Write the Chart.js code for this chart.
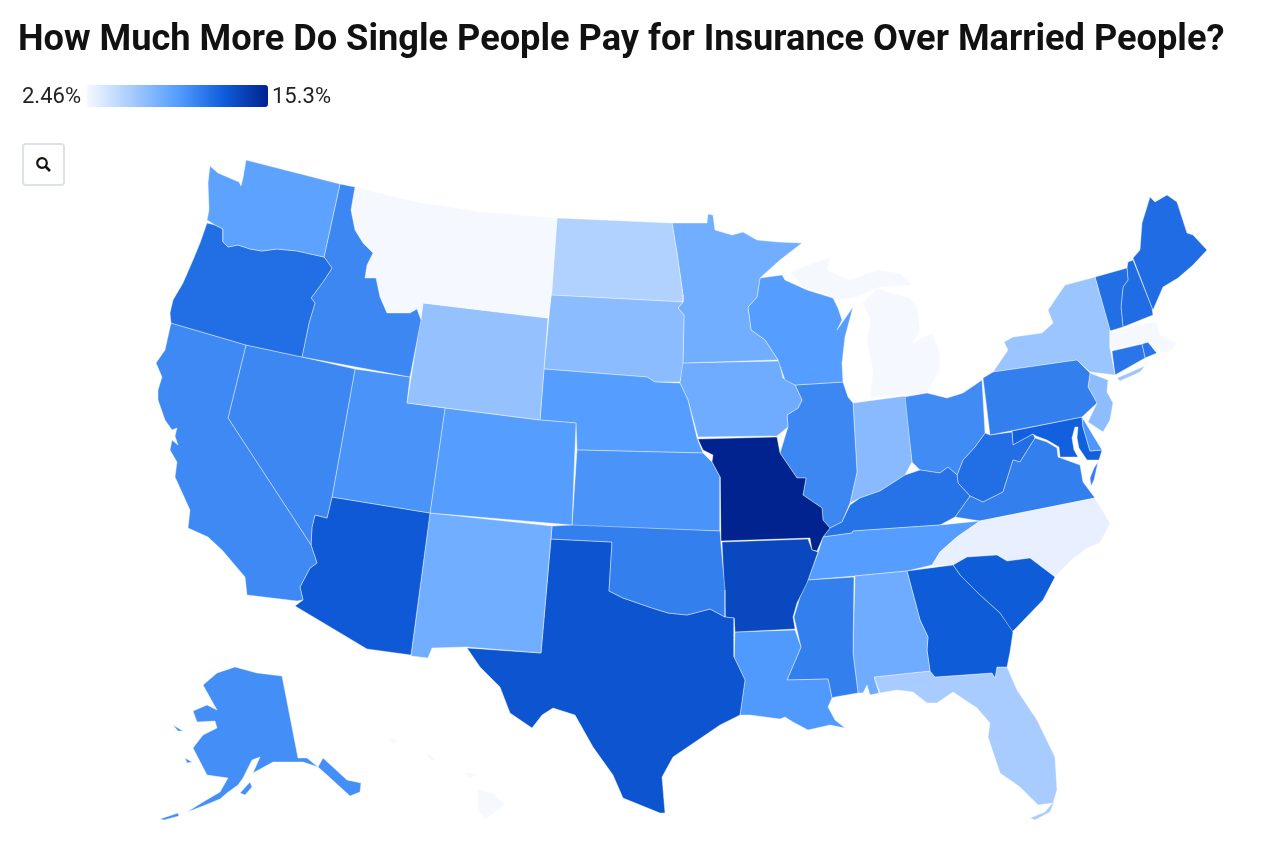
<!DOCTYPE html>
<html>
<head>
<meta charset="utf-8">
<title>How Much More Do Single People Pay for Insurance Over Married People?</title>
<script src="https://cdn.jsdelivr.net/npm/chart.js@4"></script>
<style>
  html, body { margin: 0; background: #fff; font-family: Roboto, sans-serif; }
  #page { position: relative; width: 1280px; height: 850px; overflow: hidden; }
  #title { position: absolute; left: 18px; top: 17px; margin: 0; font-size: 36.2px; line-height: 42px; font-weight: 700; color: #111; white-space: nowrap; }
  .legendText { position: absolute; top: 85px; font-size: 22px; line-height: 22px; color: #222; }
  #legendBar { position: absolute; left: 87px; top: 85px; width: 181px; height: 22px; border-radius: 3px; }
  #zoomBtn { position: absolute; left: 22px; top: 143px; width: 39px; height: 39px; border: 2px solid #dde2ea; border-radius: 4px; background: #fff; display: flex; align-items: center; justify-content: center; }
  #map { position: absolute; left: 0; top: 0; }
</style>
</head>
<body>
<div id="page">
  <canvas id="map" width="1280" height="850"></canvas>
  <h1 id="title">How Much More Do Single People Pay for Insurance Over Married People?</h1>
  <span class="legendText" id="legendMin" style="left:22px"></span>
  <div id="legendBar"></div>
  <span class="legendText" id="legendMax" style="left:272px"></span>
  <div id="zoomBtn">
    <svg width="18" height="18" viewBox="0 0 18 18"><circle cx="7" cy="7" r="4.8" fill="none" stroke="#111" stroke-width="2.2"/><line x1="10.5" y1="10.5" x2="15" y2="15" stroke="#111" stroke-width="2.6"/></svg>
  </div>
</div>
<script>
// ── DATA ───────────────────────────────────────────────────────────────────
const stateNames = ["AK","AL","AR","AZ","CA","CO","CT","DE","FL","GA","HI","IA","ID","IL","IN","KS","KY","LA","MA","MD","ME","MI","MN","MO","MS","MT","NC","ND","NE","NH","NJ","NM","NV","NY","OH","OK","OR","PA","RI","SC","SD","TN","TX","UT","VA","VT","WA","WI","WV","WY"];
const stateValues = [9.65,7.85,13.3,12.35,9.9,8.88,10.9,9.2,5.54,12.2,2.46,7.85,10.0,10.0,6.8,9.4,11.06,9.1,2.46,12.0,11.4,2.46,7.7,15.3,10.4,2.46,3.0,5.2,8.88,11.4,6.6,7.7,10.0,6.06,9.8,10.4,11.3,10.4,10.9,12.2,6.7,8.88,12.6,9.4,10.4,11.3,8.5,8.88,11.3,6.3];

const scaleMin = 2.46;
const scaleMax = 15.3;
const scaleStops = [0, 0.5, 0.75, 1];
const scaleColors = [[245,248,255], [85,157,255], [16,94,220], [0,35,143]];

// Outlines, in map units (y grows downwards)
const outlineWA = [[210,166],[218,173],[239,182],[241,186],[243,178],[246,160],[340,184],[324,257],[297,251],[277,249],[262,251],[250,249],[238,245],[228,247],[223,242],[223,229],[215,225],[207,220],[209,210],[208,183]];
const outlineOR = [[207,223],[215,225],[223,229],[223,242],[228,247],[238,245],[250,249],[262,251],[277,249],[297,251],[324,257],[332,268],[323,282],[311,298],[315,303],[309,323],[302,357],[246,345],[171,323],[170,313],[173,300],[183,283],[193,260],[200,243]];
const outlineID = [[340,184],[355,187],[351,210],[355,230],[363,243],[373,253],[367,265],[365,278],[376,278],[380,297],[387,313],[410,313],[417,309],[421,320],[410,377],[302,357],[309,323],[315,303],[311,298],[323,282],[332,268],[324,257]];
const outlineMT = [[355,187],[417,202],[483,212],[557,218],[552,290],[548,318],[423,303],[421,320],[417,309],[410,313],[387,313],[380,297],[376,278],[365,278],[367,265],[373,253],[363,243],[355,230],[351,210]];
const outlineWY = [[423,303],[548,318],[540,420],[407,403]];
const outlineCA = [[171,323],[246,345],[228,418],[311,545],[317,563],[310,568],[300,587],[303,600],[297,601],[247,595],[245,577],[228,557],[222,550],[208,537],[188,528],[190,510],[175,477],[177,462],[170,450],[172,440],[178,445],[175,436],[177,428],[172,430],[165,420],[158,400],[158,390],[162,377],[156,363],[165,350]];
const outlineNV = [[246,345],[302,357],[355,369],[332,497],[327,518],[315,515],[312,527],[311,545],[228,418]];
const outlineUT = [[355,369],[410,377],[407,403],[445,408],[430,513],[332,497]];
const outlineAZ = [[332,497],[430,513],[411,655],[367,649],[295,606],[303,600],[300,587],[310,568],[317,563],[311,545],[312,527],[315,515],[327,518]];
const outlineCO = [[445,408],[540,420],[576,423],[572,525],[430,513]];
const outlineNM = [[430,513],[552,526],[541,653],[466,647],[432,648],[428,658],[411,656]];
const outlineTX = [[551,539],[612,542],[609,591],[623,598],[652,608],[668,613],[687,615],[710,609],[725,617],[734,618],[734,657],[745,680],[740,715],[720,725],[673,757],[662,777],[665,813],[660,813],[623,798],[613,775],[593,747],[575,715],[553,708],[542,715],[532,728],[510,713],[500,687],[480,667],[467,648],[541,653]];
const outlineOK = [[552,526],[572,525],[720,531],[721,545],[725,590],[725,617],[710,609],[687,615],[668,613],[652,608],[623,598],[609,591],[612,542],[551,539]];
const outlineKS = [[577,450],[703,453],[712,462],[720,477],[720,531],[572,526]];
const outlineNE = [[544,369],[647,377],[655,382],[680,383],[688,400],[697,438],[703,453],[577,450],[576,423],[540,420]];
const outlineSD = [[551,295],[683,302],[678,308],[684,315],[683,363],[680,382],[655,382],[647,377],[544,369]];
const outlineND = [[557,218],[672,223],[677,253],[683,295],[683,302],[551,295]];
const outlineMN = [[672,223],[707,223],[708,214],[713,215],[715,230],[732,235],[743,232],[757,240],[778,242],[802,243],[780,260],[760,278],[757,297],[748,307],[751,330],[765,340],[778,360],[683,363],[684,315],[678,308],[683,302],[683,295],[677,253]];
const outlineWI = [[760,278],[782,275],[785,280],[807,290],[833,298],[838,308],[842,320],[837,330],[853,307],[845,337],[842,363],[843,382],[795,385],[785,380],[778,360],[765,340],[751,330],[748,307],[757,297]];
const outlineIA = [[682,363],[779,361],[783,378],[795,385],[802,400],[798,408],[787,415],[788,427],[777,436],[698,437],[688,400],[680,383]];
const outlineMO = [[698,439],[777,437],[780,453],[797,478],[806,478],[803,495],[822,508],[823,520],[830,528],[823,537],[817,551],[812,550],[810,538],[721,541],[720,477],[712,462],[713,455],[703,450]];
const outlineAR = [[722,542],[808,539],[812,550],[818,552],[807,583],[797,603],[793,617],[795,629],[735,632],[734,618],[725,617],[723,563]];
const outlineLA = [[735,632],[795,630],[801,647],[787,680],[828,679],[832,698],[828,707],[835,720],[845,728],[830,725],[808,730],[793,722],[785,717],[780,719],[750,715],[740,715],[745,680],[734,657]];
const outlineMS = [[808,580],[854,577],[853,653],[858,693],[835,697],[832,698],[828,679],[787,680],[801,647],[794,617],[800,597]];
const outlineAL = [[855,576],[907,571],[920,620],[928,637],[927,650],[930,671],[874,677],[879,693],[870,695],[867,685],[863,693],[858,693],[853,653]];
const outlineGA = [[907,571],[953,565],[960,575],[980,595],[1000,613],[1013,632],[1010,652],[1007,667],[997,667],[995,678],[992,673],[935,677],[930,671],[927,650],[928,637],[920,620]];
const outlineFL = [[874,677],[930,671],[935,677],[992,673],[995,678],[997,667],[1007,667],[1017,690],[1037,720],[1055,757],[1057,790],[1053,803],[1038,805],[1020,787],[1000,773],[988,737],[990,723],[977,708],[953,692],[937,703],[927,703],[913,692],[897,690],[880,693]];
const outlineFLKeys = [[1030,818],[1045,812],[1055,800],[1050,812],[1035,820]];
const outlineSC = [[953,565],[967,557],[997,555],[1007,561],[1030,558],[1055,577],[1043,600],[1017,627],[1012,632],[1000,613],[980,595],[960,575]];
const outlineNC = [[980,521],[1095,498],[1110,523],[1100,543],[1087,548],[1070,561],[1055,577],[1030,558],[1007,561],[997,555],[967,557],[953,565],[932,566],[940,552],[957,537]];
const outlineTN = [[823,537],[852,533],[853,531],[940,525],[980,521],[957,537],[940,552],[932,565],[907,571],[855,576],[808,580],[818,553]];
const outlineKY = [[830,528],[842,522],[850,505],[860,498],[880,491],[905,475],[920,470],[940,473],[948,467],[957,475],[958,483],[970,496],[955,517],[940,525],[853,531],[852,533],[823,537]];
const outlineIL = [[795,385],[843,382],[848,397],[853,403],[857,472],[850,503],[842,522],[830,528],[823,520],[822,508],[803,495],[806,478],[797,478],[780,453],[788,427],[787,415],[798,408],[802,400]];
const outlineIN = [[853,403],[905,396],[912,462],[905,475],[880,491],[860,498],[850,503],[857,472]];
const outlineOH = [[904,397],[927,393],[947,398],[963,393],[982,380],[985,433],[975,447],[963,460],[957,475],[948,467],[940,473],[920,470],[912,462]];
const outlinePA = [[983,378],[993,372],[1077,360],[1090,373],[1088,387],[1097,403],[1082,417],[990,435]];
const outlineNY = [[993,372],[1008,350],[1004,342],[1013,337],[1042,333],[1053,323],[1048,310],[1065,285],[1095,277],[1110,330],[1110,348],[1115,375],[1090,372],[1077,360]];
const outlineNYIsland = [[1117,378],[1145,366],[1140,372],[1120,381]];
const outlineNJ = [[1090,373],[1108,380],[1107,392],[1113,403],[1110,420],[1103,432],[1088,422],[1097,403],[1088,387]];
const outlineDE = [[1082,417],[1088,427],[1102,450],[1090,451],[1083,427]];
const outlineMD = [[1012,431],[1082,417],[1083,427],[1090,451],[1102,450],[1099,460],[1087,460],[1079,448],[1077,438],[1078,427],[1075,427],[1072,438],[1074,450],[1078,457],[1060,457],[1059,447],[1047,440],[1036,436],[1033,434],[1013,445]];
const outlineWV = [[985,433],[990,435],[1012,432],[1013,445],[1033,434],[1035,438],[1020,462],[1013,460],[1003,492],[983,502],[970,496],[958,483],[957,475],[963,460],[975,447]];
const outlineVA = [[1035,438],[1047,442],[1057,448],[1058,457],[1080,465],[1083,482],[1095,498],[980,521],[955,517],[970,496],[983,502],[1003,492],[1013,460],[1020,462]];
const outlineVAShore = [[1094,468],[1098,462],[1094,480],[1091,486],[1090,478]];
const outlineVT = [[1095,277],[1127,268],[1128,280],[1123,287],[1121,307],[1123,327],[1110,331]];
const outlineNH = [[1128,262],[1133,260],[1152,308],[1153,315],[1123,327],[1121,307],[1123,287],[1128,280],[1127,268]];
const outlineME = [[1133,258],[1140,250],[1142,223],[1150,197],[1155,202],[1167,195],[1177,202],[1187,233],[1193,235],[1207,250],[1193,265],[1178,278],[1163,287],[1153,310],[1152,308]];
const outlineMA = [[1110,332],[1147,323],[1157,322],[1160,335],[1177,343],[1170,352],[1157,353],[1148,342],[1110,350]];
const outlineCT = [[1112,351],[1142,344],[1145,358],[1115,375]];
const outlineRI = [[1142,344],[1148,342],[1157,353],[1145,358]];
const outlineMIUpper = [[790,272],[813,263],[830,258],[827,270],[850,280],[877,270],[900,273],[912,285],[890,287],[880,287],[857,297],[838,300],[823,293],[803,287]];
const outlineMILower = [[877,288],[890,293],[910,298],[918,310],[920,330],[913,343],[932,333],[940,353],[940,370],[930,387],[927,393],[870,398],[873,370],[867,343],[870,320],[863,303]];
const outlineAK = [[203,685],[217,673],[235,667],[257,673],[282,676],[298,758],[307,758],[318,767],[323,758],[347,780],[361,783],[360,792],[350,796],[327,775],[318,767],[303,762],[273,762],[253,773],[260,757],[252,760],[243,778],[238,785],[227,793],[220,799],[203,806],[187,812],[203,802],[220,792],[228,778],[207,775],[193,748],[203,735],[217,728],[215,721],[197,722],[193,711],[207,705],[217,710]];
const outlineAKKodiak = [[240,793],[250,782],[252,787],[245,795]];
const outlineAKNunivak = [[185,758],[192,762],[187,763]];
const outlineAKLawrence = [[173,725],[183,731],[178,731]];
const outlineAKChain = [[160,819],[178,813],[179,816],[164,820]];
const outlineHIBig = [[478,790],[493,793],[505,805],[485,820],[478,810]];
const outlineHIMaui = [[465,772],[477,775],[470,778]];
const outlineHIOahu = [[427,753],[437,760],[430,760]];
const outlineHIKauai = [[390,738],[398,740],[393,745]];

const stateParts = [
  ["WA",outlineWA],["OR",outlineOR],["ID",outlineID],["MT",outlineMT],["WY",outlineWY],["CA",outlineCA],["NV",outlineNV],["UT",outlineUT],
  ["AZ",outlineAZ],["CO",outlineCO],["NM",outlineNM],["OK",outlineOK],["TX",outlineTX],["KS",outlineKS],["NE",outlineNE],["SD",outlineSD],
  ["ND",outlineND],["MN",outlineMN],["WI",outlineWI],["IA",outlineIA],["AR",outlineAR],["MO",outlineMO],["LA",outlineLA],["MS",outlineMS],
  ["AL",outlineAL],["GA",outlineGA],["FL",outlineFL],["FL",outlineFLKeys],["SC",outlineSC],["NC",outlineNC],["TN",outlineTN],["KY",outlineKY],
  ["IL",outlineIL],["IN",outlineIN],["OH",outlineOH],["PA",outlinePA],["NY",outlineNY],["NY",outlineNYIsland],["NJ",outlineNJ],["DE",outlineDE],
  ["VA",outlineVA],["VA",outlineVAShore],["WV",outlineWV],["MD",outlineMD],["VT",outlineVT],["NH",outlineNH],["ME",outlineME],["MA",outlineMA],
  ["CT",outlineCT],["RI",outlineRI],["MI",outlineMIUpper],["MI",outlineMILower],["AK",outlineAK],["AK",outlineAKKodiak],["AK",outlineAKNunivak],
  ["AK",outlineAKLawrence],["AK",outlineAKChain],["HI",outlineHIBig],["HI",outlineHIMaui],["HI",outlineHIOahu],["HI",outlineHIKauai],
];

// ── COLOUR SCALE ───────────────────────────────────────────────────────────
function valueColor(v) {
  const t = (v - scaleMin) / (scaleMax - scaleMin);
  let i = 0;
  while (i < scaleStops.length - 2 && t > scaleStops[i + 1]) i++;
  const f = (t - scaleStops[i]) / (scaleStops[i + 1] - scaleStops[i]);
  const c = scaleColors[i].map((a, k) => Math.round(a + (scaleColors[i + 1][k] - a) * f));
  return `rgb(${c[0]},${c[1]},${c[2]})`;
}

document.getElementById("legendMin").textContent = scaleMin + "%";
document.getElementById("legendMax").textContent = scaleMax + "%";
document.getElementById("legendBar").style.background = "linear-gradient(90deg," +
  scaleColors.map((c, i) => `rgb(${c[0]},${c[1]},${c[2]}) ${scaleStops[i] * 100}%`).join(",") + ")";

// ── MAP ────────────────────────────────────────────────────────────────────
const mapDatasets = stateParts.map(([name, outline]) => {
  const value = stateValues[stateNames.indexOf(name)];
  const points = outline.concat([outline[0]]).map(p => ({ x: p[0], y: p[1] }));
  return {
    label: name, data: points, showLine: true, fill: "shape",
    backgroundColor: valueColor(value), borderColor: "rgba(255,255,255,0.4)", borderWidth: 1,
    pointRadius: 0, pointHoverRadius: 0, tension: 0,
  };
});

new Chart(document.getElementById("map").getContext("2d"), {
  type: "scatter",
  data: { datasets: mapDatasets },
  options: {
    responsive: false, animation: false,
    layout: { padding: 0 },
    plugins: {
      legend: { display: false },
      tooltip: { callbacks: { label: c => c.dataset.label + ": " + stateValues[stateNames.indexOf(c.dataset.label)] + "%" } },
    },
    scales: {
      x: { type: "linear", min: 0, max: 1280, display: false },
      y: { type: "linear", min: 0, max: 850, reverse: true, display: false },
    },
  },
});
</script>
</body>
</html>
